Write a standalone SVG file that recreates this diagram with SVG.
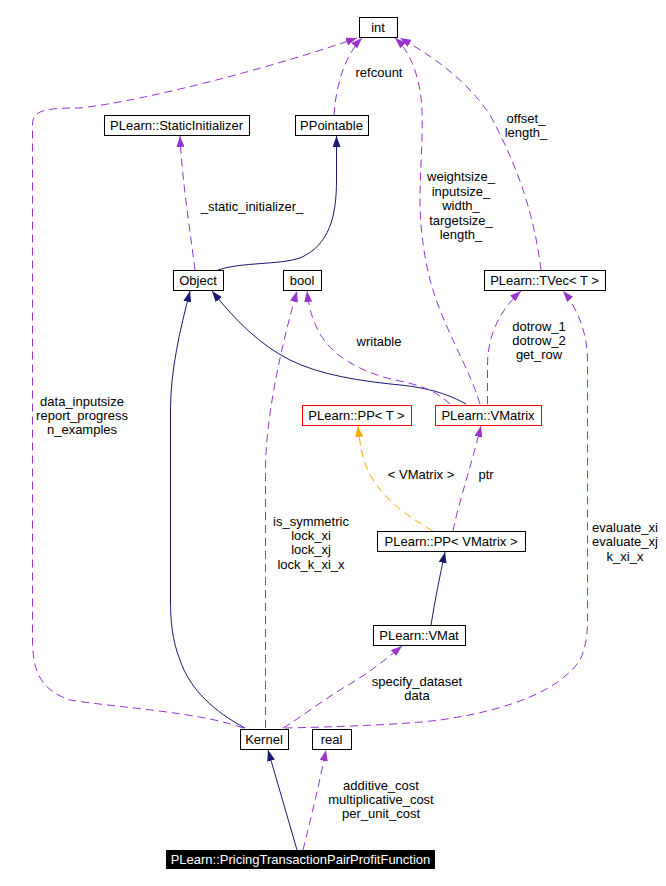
<svg xmlns="http://www.w3.org/2000/svg" width="666" height="886" viewBox="0 0 666 886">
<style>
.n rect{fill:#fff;stroke:#000;stroke-width:1}
.n rect.red{stroke:#ff0000}
text{font-family:"Liberation Sans",Arial,sans-serif;font-size:13px;text-anchor:middle;fill:#000}
.e path{fill:none;stroke-width:1}
.p{stroke:#9a32cd;stroke-dasharray:8,5;marker-end:url(#ap)}
.b{stroke:#191970;marker-end:url(#ab)}
.o{stroke:#ffa500;stroke-dasharray:8,5;marker-end:url(#ao)}
</style>
<defs>
<marker id="ap" markerUnits="userSpaceOnUse" markerWidth="11" markerHeight="8" refX="11" refY="4" orient="auto"><path d="M0,0 L11,4 L0,8 z" fill="#9a32cd"/></marker>
<marker id="ab" markerUnits="userSpaceOnUse" markerWidth="11" markerHeight="8" refX="11" refY="4" orient="auto"><path d="M0,0 L11,4 L0,8 z" fill="#191970"/></marker>
<marker id="ao" markerUnits="userSpaceOnUse" markerWidth="11" markerHeight="8" refX="11" refY="4" orient="auto"><path d="M0,0 L11,4 L0,8 z" fill="#ffa500"/></marker>
</defs>
<rect width="666" height="886" fill="#fff"/>
<g id="edges" class="e">
<path class="p" d="M243,728 C200,712 120,708 70,700 C40,690 32.5,670 32.5,640 L32.5,125 C32.5,110 45,108 80,108 C150,100 280,65 357,38"/>
<path class="p" d="M334,115 C336,85 345,55 362,38"/>
<path class="b" d="M218,270 C240,262 280,265 300,258 C330,245 336.5,215 336.5,180 L336.5,136"/>
<path class="p" d="M195,270 C190,230 182,180 180,136"/>
<path class="b" d="M245,728 C215,712 190,690 180,660 C172,640 170.5,620 170.5,600 L170.5,410 C170.5,370 180,330 190,291"/>
<path class="b" d="M466,404 C450,395 430,388 400,385 C360,381 320,375 290,360 C260,345 235,320 212,291"/>
<path class="p" d="M450,404 C435,390 420,385 395,380 C360,372 330,355 318,330 C310,315 308,300 307,291"/>
<path class="p" d="M265.5,728 L265.5,470 C265.5,420 280,350 297,291"/>
<path class="p" d="M480,404 C470,370 445,330 433,290 C425,265 420,230 420,200 C420,160 425,120 420,90 C415,65 408,50 395,38"/>
<path class="p" d="M541,270 C535,220 520,170 490,115 C470,85 440,60 400,38"/>
<path class="p" d="M487.5,404 L487.5,365 C487.5,335 500,310 521,291"/>
<path class="p" d="M285,728 C330,727 400,725 440,720 C510,710 560,690 580,660 C587,645 587.5,630 587.5,620 L587.5,360 C587.5,330 575,305 563,291"/>
<path class="p" d="M283,728 C300,718 330,695 350,684 C370,672 385,660 402,646"/>
<path class="b" d="M431,625 C435,600 440,575 445,552"/>
<path class="o" d="M433,531 C405,515 385,500 370,475 C362,458 360,445 358,426"/>
<path class="p" d="M453,531 C458,505 470,470 481,426"/>
<path class="b" d="M297,850 L268,750"/>
<path class="p" d="M303,850 C308,830 318,790 326,750"/>
<text x="82" y="406">data_inputsize</text>
<text x="82" y="420">report_progress</text>
<text x="82" y="434">n_examples</text>
<text x="379" y="77">refcount</text>
<text x="252" y="211">_static_initializer_</text>
<text x="461" y="181">weightsize_</text>
<text x="461" y="196">inputsize_</text>
<text x="461" y="210">width_</text>
<text x="461" y="225">targetsize_</text>
<text x="461" y="239">length_</text>
<text x="526" y="123">offset_</text>
<text x="526" y="137">length_</text>
<text x="379" y="346">writable</text>
<text x="539" y="331">dotrow_1</text>
<text x="539" y="345">dotrow_2</text>
<text x="539" y="359">get_row</text>
<text x="421" y="479">&lt; VMatrix &gt;</text>
<text x="486" y="479">ptr</text>
<text x="311" y="526">is_symmetric</text>
<text x="311" y="540">lock_xi</text>
<text x="311" y="554">lock_xj</text>
<text x="311" y="569">lock_k_xi_x</text>
<text x="625" y="532">evaluate_xi</text>
<text x="625" y="546">evaluate_xj</text>
<text x="625" y="561">k_xi_x</text>
<text x="417" y="686">specify_dataset</text>
<text x="417" y="700">data</text>
<text x="381" y="790">additive_cost</text>
<text x="381" y="804">multiplicative_cost</text>
<text x="381" y="818">per_unit_cost</text>
</g>
<g id="int" class="n"><rect x="359.5" y="17.5" width="38" height="20"/><text x="378" y="32">int</text></g>
<g id="staticinit" class="n"><rect x="104.5" y="115.5" width="145" height="20"/><text x="176.5" y="130">PLearn::StaticInitializer</text></g>
<g id="ppointable" class="n"><rect x="295.5" y="115.5" width="73" height="20"/><text x="331.5" y="130">PPointable</text></g>
<g id="object" class="n"><rect x="173.5" y="270.5" width="50" height="20"/><text x="198" y="285">Object</text></g>
<g id="bool" class="n"><rect x="283.5" y="270.5" width="38" height="20"/><text x="302" y="285">bool</text></g>
<g id="tvec" class="n"><rect x="484.5" y="270.5" width="121" height="20"/><text x="544.5" y="285">PLearn::TVec&lt; T &gt;</text></g>
<g id="ppt" class="n"><rect class="red" x="302.5" y="405.5" width="109" height="20"/><text x="356.5" y="420">PLearn::PP&lt; T &gt;</text></g>
<g id="vmatrix" class="n"><rect class="red" x="435.5" y="405.5" width="106" height="20"/><text x="488" y="420">PLearn::VMatrix</text></g>
<g id="ppvmatrix" class="n"><rect x="377.5" y="531.5" width="148" height="20"/><text x="451" y="546">PLearn::PP&lt; VMatrix &gt;</text></g>
<g id="vmat" class="n"><rect x="373.5" y="625.5" width="92" height="20"/><text x="419" y="640">PLearn::VMat</text></g>
<g id="kernel" class="n"><rect x="240.5" y="729.5" width="48" height="20"/><text x="264" y="744">Kernel</text></g>
<g id="real" class="n"><rect x="312.5" y="729.5" width="39" height="20"/><text x="331.5" y="744">real</text></g>
<g id="pricing"><rect x="166" y="850" width="269" height="19" fill="#000"/><text x="300.5" y="864" style="fill:#fff">PLearn::PricingTransactionPairProfitFunction</text></g>
</svg>
